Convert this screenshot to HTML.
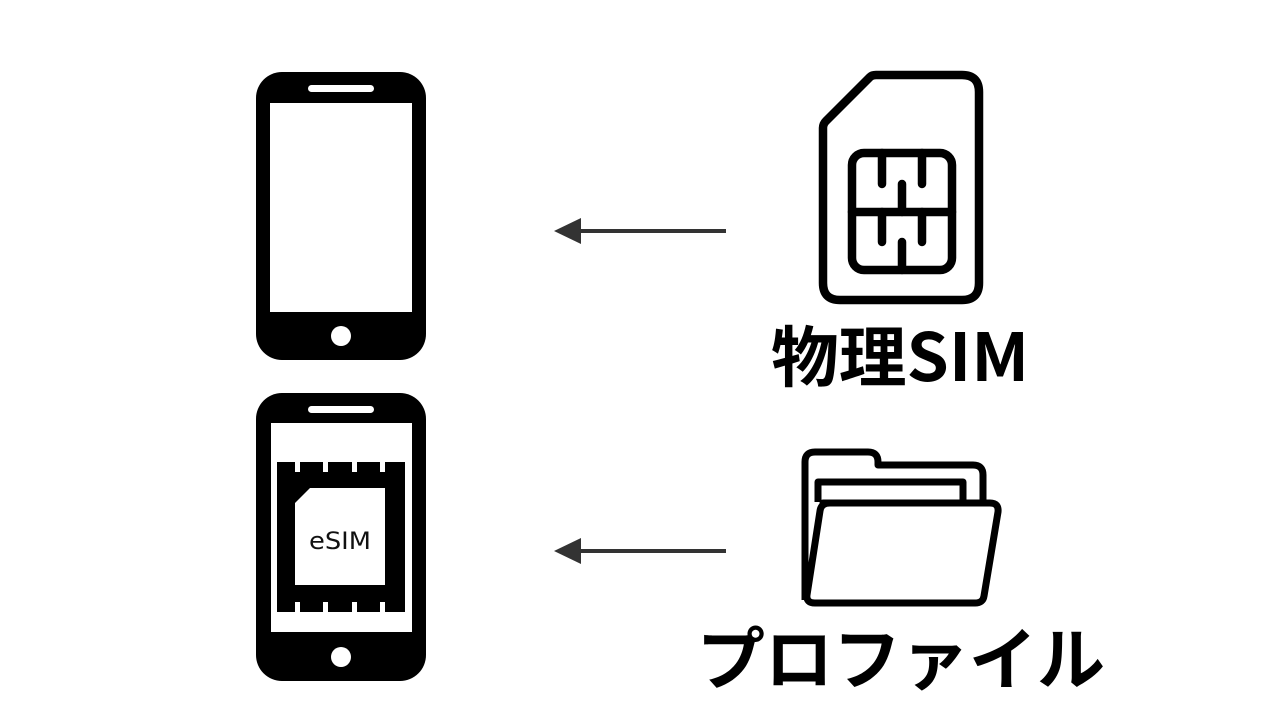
<!DOCTYPE html>
<html><head><meta charset="utf-8"><style>
html,body{margin:0;padding:0;background:#fff;width:1280px;height:720px;overflow:hidden}
svg{display:block}
</style></head><body>
<svg width="1280" height="720" viewBox="0 0 1280 720" xmlns="http://www.w3.org/2000/svg">
<!-- Phone 1 -->
<rect x="256" y="72" width="170" height="288" rx="26" fill="#000"/>
<rect x="270" y="103" width="142" height="209" fill="#fff"/>
<rect x="308" y="85" width="66" height="7" rx="3.5" fill="#fff"/>
<circle cx="341" cy="336" r="10" fill="#fff"/>
<!-- Phone 2 -->
<rect x="256" y="393" width="170" height="288" rx="26" fill="#000"/>
<rect x="271" y="423" width="141" height="209" fill="#fff"/>
<rect x="308" y="406" width="66" height="7" rx="3.5" fill="#fff"/>
<circle cx="341" cy="657" r="10" fill="#fff"/>
<rect x="277" y="462" width="128" height="150" fill="#000"/>
<g fill="#fff">
<rect x="295" y="462" width="5" height="10"/><rect x="323" y="462" width="5" height="10"/><rect x="352" y="462" width="5" height="10"/><rect x="380" y="462" width="5" height="10"/>
<rect x="295" y="602" width="5" height="10"/><rect x="323" y="602" width="5" height="10"/><rect x="352" y="602" width="5" height="10"/><rect x="380" y="602" width="5" height="10"/>
<path d="M310 488 H385 V585 H295 V503 Z"/>
</g>
<text x="340" y="549" text-anchor="middle" font-family="'DejaVu Sans', sans-serif" font-size="24" fill="#111" textLength="62" lengthAdjust="spacingAndGlyphs">eSIM</text>
<!-- Arrows -->
<g stroke="#333" stroke-width="4"><line x1="575" y1="231" x2="726" y2="231"/><line x1="575" y1="551" x2="726" y2="551"/></g>
<g fill="#333"><path d="M554 231 L581 218 L581 244 Z"/><path d="M554 551 L581 538 L581 564 Z"/></g>
<!-- SIM card -->
<g fill="none" stroke="#000" stroke-width="8.5" stroke-linecap="round" stroke-linejoin="round">
<path d="M876 75 H962 Q979 75 979 92 V283 Q979 300 962 300 H840 Q823 300 823 283 V128 Q823 124 826 121 L870 77 Q872 75 876 75 Z"/>
<rect x="852" y="153" width="100" height="117" rx="12"/>
<line x1="852" y1="212" x2="952" y2="212"/>
<line x1="882" y1="153" x2="882" y2="184"/><line x1="922" y1="153" x2="922" y2="184"/><line x1="902" y1="184" x2="902" y2="212"/>
<line x1="882" y1="212" x2="882" y2="242"/><line x1="922" y1="212" x2="922" y2="242"/><line x1="902" y1="242" x2="902" y2="270"/>
</g>
<!-- Folder -->
<g fill="#fff" stroke="#000" stroke-width="7" stroke-linejoin="round">
<path d="M805 600 V462 Q805 452 815 452 H868 Q878 452 878 462 V465 H973 Q983 465 983 475 V503"/>
<path d="M818 502 V482 H963 V502"/>
<path d="M823 503 H990 Q999 503 998 512 L984 596 Q983 603 975 603 H815 Q806 603 807 595 L820 511 Q821 503 830 503 Z"/>
</g>
<!-- Labels -->
<text x="900" y="381" text-anchor="middle" font-family="'Noto Sans CJK JP', sans-serif" font-weight="bold" font-size="66" fill="#000" textLength="258" lengthAdjust="spacingAndGlyphs">物理SIM</text>
<text x="901" y="684" text-anchor="middle" font-family="'Noto Sans CJK JP', sans-serif" font-weight="bold" font-size="68" fill="#000" textLength="408" lengthAdjust="spacingAndGlyphs">プロファイル</text>
</svg>
</body></html>
